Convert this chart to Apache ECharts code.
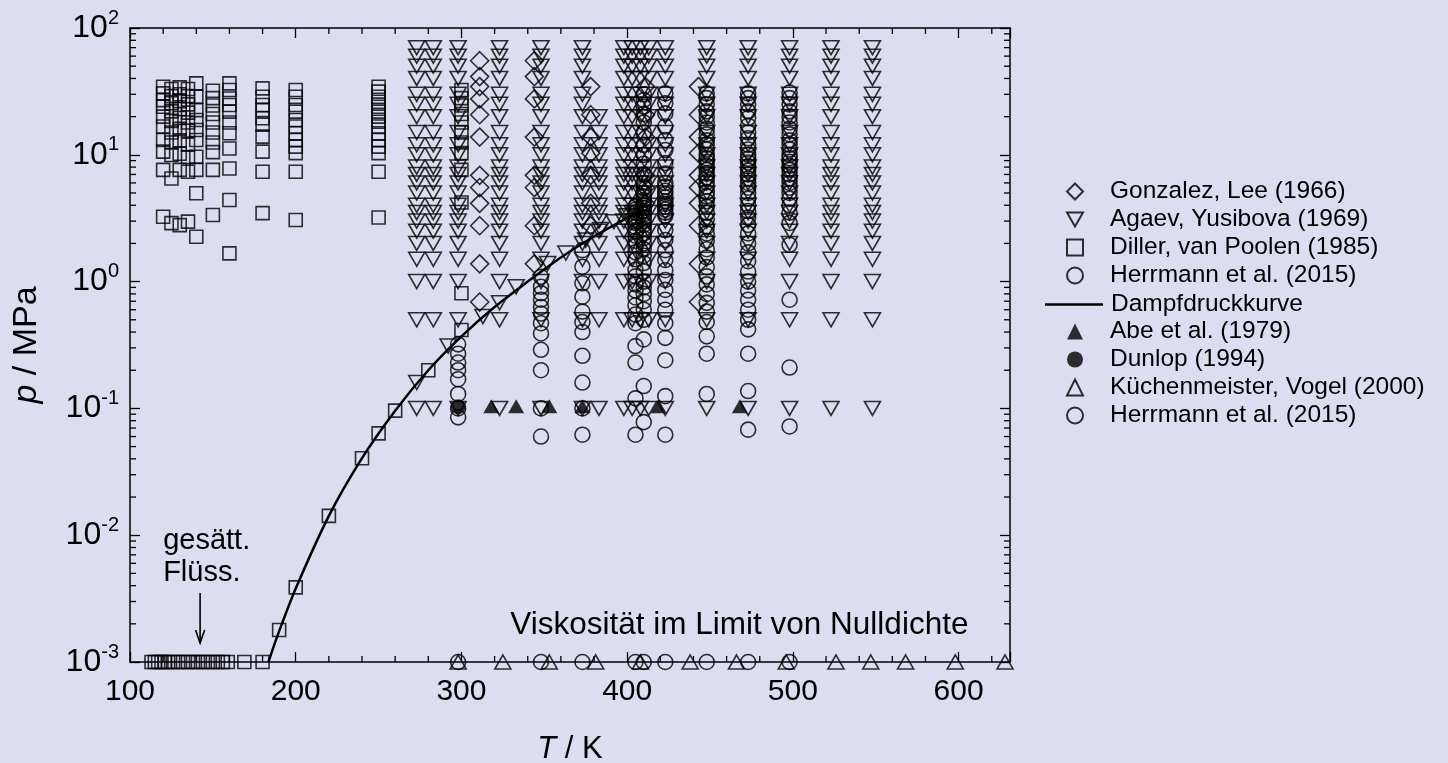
<!DOCTYPE html>
<html>
<head>
<meta charset="utf-8">
<title>Isobutan Viskosität Datenlage</title>
<script src="https://cdn.jsdelivr.net/npm/echarts@6/dist/echarts.min.js"></script>
<style>
  html, body { margin: 0; padding: 0; background: #dcddf0; }
  #chart { width: 1448px; height: 763px; }
</style>
</head>
<body>
<div id="chart"></div>
<script>
// achsen
var xMin = 100, xMax = 631;
var yMin = 0.001, yMax = 100;
var xMinorTicks = [120, 140, 160, 180, 220, 240, 260, 280, 320, 340, 360, 380,
  420, 440, 460, 480, 520, 540, 560, 580, 620];
var yDecades = [0.001, 0.01, 0.1, 1, 10];
var yMinorFactors = [2, 3, 4, 5, 6, 7, 8, 9];

// Gonzalez, Lee (1966)
var gonzalezT = [311, 344, 378, 411, 443];
var gonzalezP = [
  [55.2, 41.4, 34.5, 27.6, 20.7, 13.8, 6.89, 5.52, 4.14, 2.76, 1.38, 0.69],
  [55.2, 41.4, 27.6, 13.8, 6.89, 5.52, 2.76, 1.38],
  [34.5, 20.7, 13.8, 10.3, 6.89, 4.14, 2.76],
  [34.5, 20.7, 13.8, 6.89, 5.52, 4.14],
  [34.5, 20.7, 13.8, 10.3, 6.89, 5.52, 4.14, 2.76, 1.38, 0.69]
];

// Agaev, Yusibova (1969)
var agaevT = [273, 283, 298, 323, 348, 373, 398, 403, 408, 413, 423, 448, 473, 498, 523, 548];
var agaevLevels = [0.1, 0.5, 1, 1.5, 2, 2.5, 3, 3.5, 4, 5, 6, 7, 8, 10, 12, 15, 20, 25, 30, 40, 50, 60, 70];
var agaev383Levels = [0.1, 0.5, 1, 1.5, 2, 2.5, 3, 3.5, 4, 5, 6, 7, 8, 10, 12, 15, 20];
var agaevSat = [[273, 0.16], [292, 0.31], [313, 0.53], [323, 0.68], [333, 0.91], [352, 1.39],
  [363, 1.68], [375, 2.13], [384, 2.57], [392, 2.97], [400, 3.3]];

// Diller, van Poolen (1985)
var dillerT = [120, 125, 130, 135, 140, 150, 160, 180, 200, 250, 300];
var dillerP = [
  [34.4, 30.5, 27, 23.9, 20, 16.7, 13.1, 10.6, 7.6, 3.25],
  [33, 29, 25.5, 22, 18.5, 15, 12.5, 9.96, 6.5, 2.89],
  [34, 30, 26.5, 23, 19.5, 16, 13, 10.2, 7.6, 2.79],
  [33, 29, 25, 21.5, 18, 15.5, 12, 9.6, 7.36, 2.97],
  [36.6, 28.7, 22.5, 18.8, 15.7, 13.1, 9.66, 7.6, 4.97, 2.26],
  [32, 28, 24.5, 21, 18, 15, 12.5, 10.5, 7.6, 3.35],
  [36.6, 32.4, 27.8, 24.7, 21.9, 18, 14.8, 11.2, 7.8, 4.4, 1.67],
  [33.4, 28.7, 24.7, 22.5, 19.4, 17.3, 13.9, 10.6, 7.36, 3.47],
  [32.4, 28.7, 24.7, 21.9, 18.8, 16.7, 14.8, 13.1, 11.6, 10.3, 7.36, 3.06],
  [34.4, 31.5, 28.7, 26.2, 23.9, 21.9, 20, 18.2, 16.7, 14.8, 13.1, 11.6, 10.3, 7.36, 3.2],
  [32.4, 28, 24.5, 21, 18, 15, 12.5, 10.3, 7.6, 4.2, 0.81, 0.415]
];
var dillerSatLiqT = [113, 115, 117, 119, 121, 123, 126, 129, 132, 135, 138, 141, 144, 147, 150, 153, 156, 159, 169, 180];
var dillerVap = [[190, 0.00179], [200, 0.00388], [220, 0.0142], [240, 0.0404], [250, 0.0635], [260, 0.096], [280, 0.2]];

// Herrmann et al. (2015), dichtes Fluid
var herrmannT = [298, 348, 373, 405, 410, 423, 448, 473, 498];
var herrmannP = [
  [0.32, 0.27, 0.23, 0.2, 0.17, 0.13, 0.1, 0.085],
  [1.09, 0.91, 0.81, 0.72, 0.63, 0.56, 0.47, 0.39, 0.29, 0.2, 0.1, 0.06],
  [1.77, 1.31, 0.97, 0.76, 0.58, 0.48, 0.4, 0.26, 0.16, 0.1, 0.062],
  [3.9, 3.7, 3.5, 3.3, 3.1, 2.9, 2.7, 2.5, 2.3, 2.1, 1.9, 1.7, 1.5, 1.24, 1.1, 0.95, 0.85, 0.75,
    0.65, 0.55, 0.47, 0.31, 0.23, 0.12, 0.062],
  [30, 27, 24, 21, 18, 15, 12, 10, 8.5, 7, 6, 5.5, 5, 4.7, 4.4, 4.2, 4, 3.8, 3.6, 3.4, 3.2, 3,
    2.8, 2.6, 2.4, 2.2, 2, 1.8, 1.6, 1.4, 1.2, 1, 0.9, 0.8, 0.7, 0.6, 0.5, 0.35, 0.15, 0.078],
  [30.5, 25.5, 21.2, 16.7, 13.1, 10.9, 8.6, 7.1, 6, 5.6, 5.2, 4.9, 4.6, 4.3, 4.1, 3.9, 3.7, 3.5,
    3.3, 2.55, 2.13, 1.77, 1.48, 1.23, 1.03, 0.86, 0.72, 0.6, 0.47, 0.36, 0.24, 0.125, 0.062],
  [30.5, 28, 25, 22, 20, 18, 16, 14.5, 13, 12, 11, 10, 9.4, 8.8, 8.2, 7.6, 7.1, 6.6, 6.1, 5.6,
    5.1, 4.7, 4.3, 3.9, 3.5, 3.1, 2.7, 2.4, 2.1, 1.8, 1.55, 1.3, 1.1, 0.95, 0.8, 0.68, 0.58,
    0.48, 0.37, 0.27, 0.13],
  [30.5, 28, 25, 22, 19.5, 17, 15, 13.5, 12, 11, 10, 9.3, 8.7, 8.1, 7.5, 7, 6.5, 6, 5.5, 5, 4.5,
    4, 3.6, 3.2, 2.8, 2.4, 2, 1.7, 1.45, 1.2, 1, 0.85, 0.72, 0.6, 0.5, 0.42, 0.27, 0.137, 0.068],
  [31, 28, 25, 22, 20, 18, 16, 14.5, 13, 12, 11, 10, 9.4, 8.8, 8.2, 7.6, 7, 6.5, 6, 5.5, 5, 4.5,
    4, 3.5, 2.9, 1.95, 0.72, 0.21, 0.072]
];

// Dampfdruckkurve
var vaporCurve = [[183.5, 0.001], [190, 0.00175], [200, 0.0038], [220, 0.0142], [240, 0.0405],
  [260, 0.096], [280, 0.2], [300, 0.37], [320, 0.63], [340, 1.0], [360, 1.55], [380, 2.27],
  [400, 3.18], [407.8, 3.63]];

// Nulldichte-Daten
var abe = [[318, 0.104], [333, 0.104], [353, 0.104], [373, 0.104], [419, 0.104], [468, 0.104]];
var dunlop = [[298, 0.103]];
var kuechenmeisterT = [298, 325, 353, 381, 408, 438, 466, 496, 526, 547, 568, 598, 628];
var herrmannZeroT = [298, 348, 373, 405, 410, 423, 448, 473, 498];

// Beschriftungen (Datenkoordinaten)
var satLabelPos = [120, 0.0120];
var arrowTail = [142.3, 0.0035];
var arrowTip = [142.3, 0.00141];
var zeroLabelPos = [329.5, 0.00196];

var FONT = "'Liberation Sans', Arial, sans-serif";
var legendNames = ['Gonzalez, Lee (1966)', 'Agaev, Yusibova (1969)', 'Diller, van Poolen (1985)',
  'Herrmann et al. (2015)', 'Dampfdruckkurve', 'Abe et al. (1979)', 'Dunlop (1994)',
  'Küchenmeister, Vogel (2000)', 'Herrmann et al. (2015) '];

function columns(temps, lists) {
  var out = [];
  temps.forEach(function (t, i) {
    lists[i].forEach(function (p) { out.push([t, p]); });
  });
  return out;
}
function atP(temps, p) {
  return temps.map(function (t) { return [t, p]; });
}

var agaevData = [];
agaevT.forEach(function (t) {
  agaevLevels.forEach(function (p) { agaevData.push([t, p]); });
});
agaev383Levels.forEach(function (p) { agaevData.push([383, p]); });
agaevData = agaevData.concat(agaevSat);

var dillerData = columns(dillerT, dillerP).concat(atP(dillerSatLiqT, yMin)).concat(dillerVap);

var yMinorTicks = [];
yDecades.forEach(function (d) {
  yMinorFactors.forEach(function (f) { yMinorTicks.push(d * f); });
});

var hollow = { color: 'transparent', borderColor: '#000', borderWidth: 1.6 };
var filled = { color: '#000', borderColor: '#000', borderWidth: 0 };
var tickStyle = { color: '#000', width: 1.3 };
var downTriangle = 'path://M0,0L16,0L8,14Z';

function xAxisDef(pos, showLabel) {
  return {
    type: 'value', min: xMin, max: xMax, interval: 100, position: pos,
    axisLine: { show: true, onZero: false, lineStyle: { color: '#000', width: 1.5 } },
    axisTick: { show: true, inside: true, length: 10, lineStyle: tickStyle },
    splitLine: { show: false },
    axisLabel: {
      show: showLabel, color: '#000', fontSize: 30, fontFamily: FONT, margin: 15,
      formatter: function (v) { return v % 100 === 0 ? String(v) : ''; }
    }
  };
}
function yAxisDef(pos, showLabel) {
  return {
    type: 'log', logBase: 10, min: yMin, max: yMax, position: pos,
    axisLine: { show: true, onZero: false, lineStyle: { color: '#000', width: 1.5 } },
    axisTick: { show: true, inside: true, length: 10, lineStyle: tickStyle },
    splitLine: { show: false },
    axisLabel: {
      show: showLabel, margin: 11,
      formatter: function (v) {
        var e = Math.round(Math.log10(v));
        return '{b|10}{s|' + e + '}';
      },
      rich: {
        b: { fontSize: 32, fontFamily: FONT, color: '#000', lineHeight: 40 },
        s: { fontSize: 20, fontFamily: FONT, color: '#000', lineHeight: 20, verticalAlign: 'top' }
      }
    }
  };
}

var xAxes = [xAxisDef('bottom', true), xAxisDef('top', false)];
xAxes[0].name = '{i|T} / K';
xAxes[0].nameLocation = 'middle';
xAxes[0].nameGap = 72;
xAxes[0].nameTextStyle = {
  fontSize: 31, fontFamily: FONT, color: '#000',
  rich: { i: { fontSize: 31, fontFamily: FONT, fontStyle: 'italic', color: '#000' } }
};
var yAxes = [yAxisDef('left', true), yAxisDef('right', false)];
yAxes[0].name = '{i|p} / MPa';
yAxes[0].nameLocation = 'middle';
yAxes[0].nameGap = 86;
yAxes[0].nameTextStyle = {
  fontSize: 34, fontFamily: FONT, color: '#000',
  rich: { i: { fontSize: 34, fontFamily: FONT, fontStyle: 'italic', color: '#000' } }
};

function scatter(name, data, symbol, size, style, rotate) {
  return {
    name: name, type: 'scatter', data: data, symbol: symbol, symbolSize: size,
    symbolRotate: rotate || 0, itemStyle: style, clip: false, silent: true
  };
}

var legendText = { fontSize: 24.5, fontFamily: FONT, color: '#000', lineHeight: 23 };
function legendBlock(items, top, left, w, h, pad) {
  return {
    data: items, orient: 'vertical', left: left, top: top,
    itemWidth: w, itemHeight: h, itemGap: 3, selectedMode: false,
    textStyle: Object.assign({ padding: [0, 0, 0, pad] }, legendText)
  };
}

var option = {
  backgroundColor: '#dcddf0',
  animation: false,
  textStyle: { fontFamily: FONT },
  grid: { left: 130, right: 438, top: 28, bottom: 101, outerBoundsMode: 'none', containLabel: false },
  xAxis: xAxes,
  yAxis: yAxes,
  legend: [
    legendBlock([
      { name: legendNames[0] },
      { name: legendNames[1], icon: downTriangle },
      { name: legendNames[2] },
      { name: legendNames[3] }
    ], 174, 1061, 16, 16, 22),
    legendBlock([{ name: legendNames[4], icon: 'rect' }], 287, 1040, 58, 2.5, 3),
    legendBlock([
      { name: legendNames[5] },
      { name: legendNames[6] },
      { name: legendNames[7] },
      { name: legendNames[8] }
    ], 314, 1061, 16, 16, 22)
  ],
  series: [
    {
      type: 'custom', silent: true, clip: false,
      data: xMinorTicks.map(function (v) { return [v, 1]; }),
      renderItem: function (params, api) {
        var v = api.value(0);
        var b = api.coord([v, yMin]);
        var t = api.coord([v, yMax]);
        return { type: 'group', children: [
          { type: 'line', shape: { x1: b[0], y1: b[1], x2: b[0], y2: b[1] - 6 }, style: { stroke: '#000', lineWidth: 1.3 } },
          { type: 'line', shape: { x1: t[0], y1: t[1], x2: t[0], y2: t[1] + 6 }, style: { stroke: '#000', lineWidth: 1.3 } }
        ] };
      }
    },
    {
      type: 'custom', silent: true, clip: false,
      data: yMinorTicks.map(function (v) { return [200, v]; }),
      renderItem: function (params, api) {
        var v = api.value(1);
        var l = api.coord([xMin, v]);
        var r = api.coord([xMax, v]);
        return { type: 'group', children: [
          { type: 'line', shape: { x1: l[0], y1: l[1], x2: l[0] + 6, y2: l[1] }, style: { stroke: '#000', lineWidth: 1.3 } },
          { type: 'line', shape: { x1: r[0], y1: r[1], x2: r[0] - 6, y2: r[1] }, style: { stroke: '#000', lineWidth: 1.3 } }
        ] };
      }
    },
    scatter(legendNames[2], dillerData, 'rect', 13, hollow),
    scatter(legendNames[1], agaevData, 'triangle', [16, 14], hollow, 180),
    scatter(legendNames[0], columns(gonzalezT, gonzalezP), 'diamond', [18, 18], hollow),
    scatter(legendNames[3], columns(herrmannT, herrmannP), 'circle', 15, hollow),
    {
      name: legendNames[4], type: 'line', data: vaporCurve, smooth: 0.3,
      symbol: 'none', clip: false, silent: true,
      lineStyle: { color: '#000', width: 2.5 }, itemStyle: { color: '#000' }
    },
    scatter(legendNames[5], abe, 'triangle', [16, 14], filled),
    scatter(legendNames[6], dunlop, 'circle', 15, filled),
    scatter(legendNames[7], atP(kuechenmeisterT, yMin), 'triangle', [16, 14], hollow),
    scatter(legendNames[8], atP(herrmannZeroT, yMin), 'circle', 15, hollow)
  ]
};

var chart = echarts.init(document.getElementById('chart'));
chart.setOption(option);

function px(pt) { return chart.convertToPixel({ xAxisIndex: 0, yAxisIndex: 0 }, pt); }
var sl = px(satLabelPos), tail = px(arrowTail), tip = px(arrowTip), zl = px(zeroLabelPos);
chart.setOption({
  graphic: [
    { type: 'text', x: sl[0], y: sl[1], silent: true,
      style: { text: 'gesätt.\nFlüss.', fontSize: 29, fontFamily: FONT, fill: '#000', lineHeight: 32, verticalAlign: 'top' } },
    { type: 'polyline', silent: true, shape: { points: [tail, tip] }, style: { stroke: '#000', lineWidth: 1.6 } },
    { type: 'polyline', silent: true,
      shape: { points: [[tip[0] - 4.5, tip[1] - 13], tip, [tip[0] + 4.5, tip[1] - 13]] },
      style: { stroke: '#000', lineWidth: 1.6, fill: null } },
    { type: 'text', x: zl[0], y: zl[1], silent: true,
      style: { text: 'Viskosität im Limit von Nulldichte', fontSize: 31.5, fontFamily: FONT, fill: '#000', verticalAlign: 'middle' } }
  ]
});
</script>
</body>
</html>
